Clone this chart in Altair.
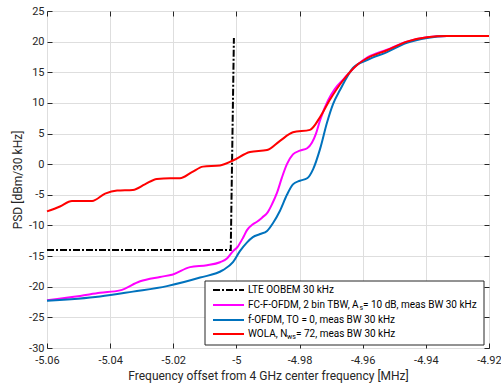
import altair as alt
import pandas as pd

# Spectral emission of each waveform: frequency offset (MHz) vs PSD (dBm/30 kHz)
lte_freq = [-5.06, -5.0018, -5.0008]
lte_psd = [-14.0, -14.0, 20.6]

fcf_freq = [-5.06, -5.0495, -5.0432, -5.0369, -5.0305, -5.0242, -5.0201, -5.0147,
            -5.0093, -5.0052, -5.0030, -5.0011, -4.9998, -4.9979, -4.9967, -4.9948,
            -4.9935, -4.9916, -4.9903, -4.9887, -4.9871, -4.9856, -4.9840, -4.9821,
            -4.9799, -4.9776, -4.9761, -4.9748, -4.9735, -4.9710, -4.9688, -4.9662,
            -4.9618, -4.9586, -4.9523, -4.9460, -4.9396, -4.9333, -4.92]
fcf_psd = [-22.2, -21.5, -21.0, -20.6, -19.1, -18.4, -18.0, -16.8,
           -16.5, -16.0, -15.4, -14.2, -13.6, -12.0, -10.8, -9.8,
           -9.4, -8.6, -8.0, -6.5, -4.6, -2.2, 0.0, 1.6,
           2.2, 2.6, 3.5, 5.0, 7.2, 10.4, 12.3, 13.8,
           16.2, 17.4, 18.7, 20.0, 20.7, 20.9, 20.9]

fofdm_freq = [-5.06, -5.0432, -5.0328, -5.0220, -5.0115, -5.0043, -5.0011, -4.9989,
              -4.9967, -4.9948, -4.9925, -4.9903, -4.9884, -4.9862, -4.9840, -4.9821,
              -4.9799, -4.9776, -4.9757, -4.9735, -4.9713, -4.9694, -4.9672, -4.9631,
              -4.9586, -4.9523, -4.9460, -4.9396, -4.9333, -4.92]
fofdm_psd = [-22.3, -21.6, -20.8, -19.9, -18.5, -17.3, -16.0, -14.2,
             -12.8, -11.9, -11.4, -10.9, -9.6, -7.6, -5.0, -3.3,
             -2.7, -2.3, -0.8, 2.5, 6.8, 9.8, 12.1, 15.7,
             17.0, 18.3, 19.8, 20.6, 20.9, 20.9]

wola_freq = [-5.06, -5.0559, -5.0521, -5.0457, -5.0416, -5.0378, -5.0328, -5.0290,
             -5.0252, -5.0210, -5.0179, -5.0141, -5.0106, -5.0052, -5.0011, -4.9957,
             -4.9903, -4.9862, -4.9821, -4.9767, -4.9735, -4.9704, -4.9662, -4.9618,
             -4.9586, -4.9523, -4.9460, -4.9396, -4.9333, -4.92]
wola_psd = [-7.7, -6.9, -6.0, -6.0, -4.8, -4.3, -4.2, -3.3,
            -2.4, -2.3, -2.3, -1.3, -0.4, -0.2, 0.6, 2.0,
            2.3, 3.8, 5.2, 5.6, 7.7, 10.5, 13.7, 16.2,
            17.3, 18.6, 20.0, 20.7, 20.9, 20.9]

x_ticks = [-5.06, -5.04, -5.02, -5.0, -4.98, -4.96, -4.94, -4.92]
y_ticks = [-30, -25, -20, -15, -10, -5, 0, 5, 10, 15, 20, 25]

x_title = "Frequency offset from 4 GHz center frequency [MHz]"
y_title = "PSD [dBm/30 kHz]"

FONT = "Roboto"
INK = "#262626"
GRID = "#dedede"
MINUS_FIX = "replace(format(datum.value, '~g'), '\u2212', '-')"

x_scale = alt.Scale(domain=[-5.06, -4.92], nice=False, zero=False)
y_scale = alt.Scale(domain=[-30, 25], nice=False, zero=False)

x_axis = alt.Axis(orient="bottom", values=x_ticks, labelExpr=MINUS_FIX, title=x_title,
                  tickSize=5, offset=-5, domain=False, grid=True, gridColor=GRID,
                  tickColor=INK, labelPadding=6, titlePadding=5, labelFlush=False)
y_axis = alt.Axis(orient="left", values=y_ticks, labelExpr=MINUS_FIX, title=y_title,
                  tickSize=5, offset=-5, domain=False, grid=True, gridColor=GRID,
                  tickColor=INK, labelPadding=3, titlePadding=4, labelFlush=False)


def curve(freq, psd, color, dash=None, interp="monotone"):
    df = pd.DataFrame({"f": freq, "psd": psd})
    opts = dict(color=color, strokeWidth=2, interpolate=interp)
    if dash:
        opts["strokeDash"] = dash
    return alt.Chart(df).mark_line(**opts).encode(
        x=alt.X("f:Q", scale=x_scale, axis=x_axis),
        y=alt.Y("psd:Q", scale=y_scale, axis=y_axis),
    )


lte = curve(lte_freq, lte_psd, "#000000", dash=[7, 2, 2, 2], interp="linear")
fcf = curve(fcf_freq, fcf_psd, "#FF00FF")
fofdm = curve(fofdm_freq, fofdm_psd, "#0072BD")
wola = curve(wola_freq, wola_psd, "#FF0000")

# Inward ticks along the top and right edges of the box
edge_ticks = alt.Chart(pd.DataFrame({"f": wola_freq, "psd": wola_psd})).mark_line(opacity=0).encode(
    x=alt.X("f:Q", scale=x_scale,
            axis=alt.Axis(orient="top", values=x_ticks, labels=False, title=None, tickSize=5,
                          offset=-5, domain=False, grid=False, tickColor=INK)),
    y=alt.Y("psd:Q", scale=y_scale,
            axis=alt.Axis(orient="right", values=y_ticks, labels=False, title=None, tickSize=5,
                          offset=-5, domain=False, grid=False, tickColor=INK)),
)

# Legend box drawn by hand so the subscripts can be set as text
one = pd.DataFrame({"k": [0]})
box = alt.Chart(one).mark_rect(fill="white", stroke=INK, strokeWidth=1).encode(
    x=alt.value(158), x2=alt.value(437), y=alt.value(270), y2=alt.value(334))

legend_rows = [
    ("#000000", [7, 2, 2, 2], 279),
    ("#FF00FF", None, 294),
    ("#0072BD", None, 309),
    ("#FF0000", None, 323),
]
legend_layers = [box]
for color, dash, yy in legend_rows:
    opts = dict(color=color, strokeWidth=2)
    if dash:
        opts["strokeDash"] = dash
    legend_layers.append(alt.Chart(one).mark_rule(**opts).encode(
        x=alt.value(166), x2=alt.value(197), y=alt.value(yy)))


def label(txt, x, y, size=10, align="left"):
    return alt.Chart(one).mark_text(align=align, baseline="middle", font=FONT,
                                    fontSize=size, color="#000000").encode(
        x=alt.value(x), y=alt.value(y), text=alt.value(txt))


legend_layers += [
    label("LTE OOBEM 30 kHz", 201, 279),
    label("FC-F-OFDM, 2 bin TBW, A", 201, 294),
    label("s", 312.5, 297, size=7),
    label(" = 10 dB, meas BW 30 kHz", 316, 294),
    label("f-OFDM, TO = 0, meas BW 30 kHz", 201, 309),
    label("WOLA, N", 201, 323),
    label("ws", 240, 326, size=7),
    label(" = 72, meas BW 30 kHz", 249, 323),
]

curves = alt.layer(lte, fcf, fofdm, wola)

chart = alt.layer(curves, edge_ticks, *legend_layers).resolve_axis(
    x="independent", y="independent"
).properties(
    width=442, height=337,
    padding={"left": 47, "top": 11, "right": 12, "bottom": 35},
    autosize=alt.AutoSizeParams(type="none"),
).configure_view(
    stroke=INK, strokeWidth=1
).configure_axis(
    labelFont=FONT, labelFontSize=11, labelColor=INK,
    titleFont=FONT, titleFontSize=12, titleFontWeight="normal", titleColor=INK,
)

chart.save("out.html", embed_options={"renderer": "svg", "actions": False})
